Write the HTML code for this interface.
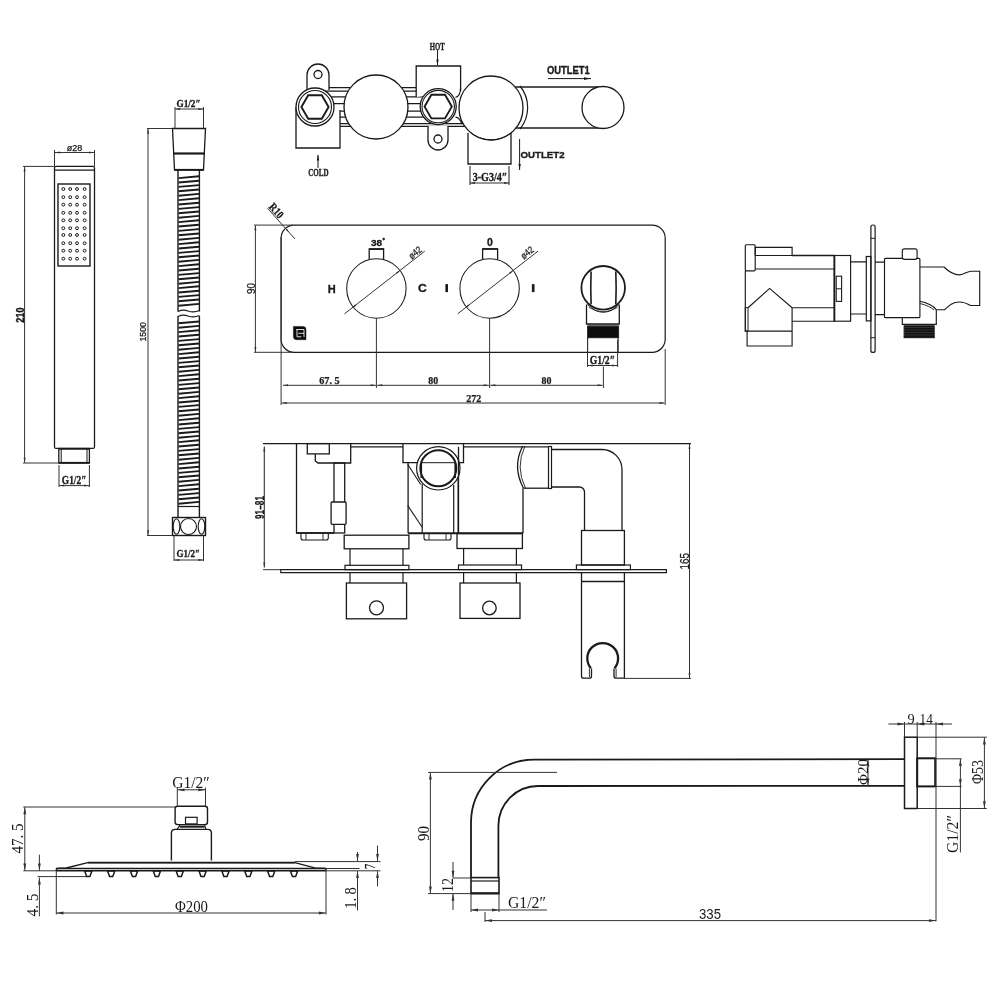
<!DOCTYPE html>
<html><head><meta charset="utf-8"><style>
html,body{margin:0;padding:0;background:#fff;}
svg{display:block;will-change:transform;}
</style></head><body>
<svg width="1000" height="1000" viewBox="0 0 1000 1000" stroke-linecap="butt">
<rect width="1000" height="1000" fill="#fff"/>
<line x1="322" y1="87.6" x2="417" y2="87.6" stroke="#1a1a1a" stroke-width="1.2" />
<line x1="322" y1="91.2" x2="417" y2="91.2" stroke="#1a1a1a" stroke-width="1.2" />
<line x1="322" y1="96.8" x2="438" y2="96.8" stroke="#1a1a1a" stroke-width="1.2" />
<line x1="322" y1="103.6" x2="438" y2="103.6" stroke="#1a1a1a" stroke-width="1.2" />
<line x1="322" y1="111.2" x2="438" y2="111.2" stroke="#1a1a1a" stroke-width="1.2" />
<line x1="322" y1="117.2" x2="438" y2="117.2" stroke="#1a1a1a" stroke-width="1.2" />
<line x1="322" y1="123.6" x2="470" y2="123.6" stroke="#1a1a1a" stroke-width="1.2" />
<line x1="322" y1="126.4" x2="470" y2="126.4" stroke="#1a1a1a" stroke-width="1.2" />
<path d="M307,90 L307,75 A11,11 0 0 1 329,75 L329,90" fill="#fff" stroke="#1a1a1a" stroke-width="1.3" />
<circle cx="318" cy="74.5" r="4" fill="none" stroke="#1a1a1a" stroke-width="1.3"/>
<path d="M296,107 L296,148 L340,148 L340,110" fill="#fff" stroke="#1a1a1a" stroke-width="1.3" />
<circle cx="315" cy="107" r="19" fill="#fff" stroke="#1a1a1a" stroke-width="1.3"/>
<circle cx="315" cy="107" r="16.5" fill="none" stroke="#1a1a1a" stroke-width="1.1"/>
<path d="M328.6,107.0 L321.8,118.8 L308.2,118.8 L301.4,107.0 L308.2,95.2 L321.8,95.2 Z" fill="#fff" stroke="#1a1a1a" stroke-width="1.9" />
<circle cx="376" cy="107" r="32" fill="#fff" stroke="#1a1a1a" stroke-width="1.3"/>
<path d="M416.2,97 L416.2,66 L460.6,66 L460.6,91" fill="#fff" stroke="#1a1a1a" stroke-width="1.3" />
<line x1="437.5" y1="50" x2="437.5" y2="65" stroke="#1a1a1a" stroke-width="1" />
<polygon points="437.5,65.5 436.30,59.50 438.70,59.50" fill="#1a1a1a"/>
<text x="437.3" y="45.9" font-family="Liberation Serif" font-size="11.18" font-weight="bold" text-anchor="middle" dominant-baseline="central" textLength="15" lengthAdjust="spacingAndGlyphs" fill="#1a1a1a" stroke="#1a1a1a" stroke-width="0.35">HOT</text>
<path d="M428,126 L428,140 A10,10 0 0 0 448,140 L448,126" fill="#fff" stroke="#1a1a1a" stroke-width="1.3" />
<circle cx="438" cy="139" r="4" fill="none" stroke="#1a1a1a" stroke-width="1.3"/>
<circle cx="438.2" cy="106.6" r="18" fill="#fff" stroke="#1a1a1a" stroke-width="1.3"/>
<circle cx="438.2" cy="106.6" r="16.2" fill="none" stroke="#1a1a1a" stroke-width="1.1"/>
<path d="M451.8,106.6 L445.0,118.4 L431.4,118.4 L424.6,106.6 L431.4,94.8 L445.0,94.8 Z" fill="#fff" stroke="#1a1a1a" stroke-width="1.9" />
<path d="M460.6,88 Q460.2,96.5 455.5,97.3" fill="none" stroke="#1a1a1a" stroke-width="1.2" />
<path d="M455.5,117.2 Q459.5,117.4 462,124" fill="none" stroke="#1a1a1a" stroke-width="1.2" />
<path d="M468,133 L468,164 L511,164 L511,133" fill="#fff" stroke="#1a1a1a" stroke-width="1.3" />
<line x1="505" y1="87" x2="603" y2="87" stroke="#1a1a1a" stroke-width="1.3" />
<line x1="505" y1="128" x2="603" y2="128" stroke="#1a1a1a" stroke-width="1.3" />
<path d="M520,86 A34,34 0 0 1 520,129" fill="none" stroke="#1a1a1a" stroke-width="1.2" />
<circle cx="603" cy="107.5" r="21" fill="#fff" stroke="#1a1a1a" stroke-width="1.3"/>
<circle cx="491" cy="108" r="32" fill="#fff" stroke="#1a1a1a" stroke-width="1.3"/>
<path d="M470,132 A32,32 0 0 0 512,132" fill="none" stroke="#1a1a1a" stroke-width="1.0" />
<text x="318.4" y="172.1" font-family="Liberation Serif" font-size="11.18" font-weight="bold" text-anchor="middle" dominant-baseline="central" textLength="20.4" lengthAdjust="spacingAndGlyphs" fill="#1a1a1a" stroke="#1a1a1a" stroke-width="0.35">COLD</text>
<line x1="318" y1="155" x2="318" y2="168" stroke="#1a1a1a" stroke-width="1" />
<polygon points="318,154.5 319.20,160.50 316.80,160.50" fill="#1a1a1a"/>
<text x="568.4" y="70.05" font-family="Liberation Sans" font-size="10.47" font-weight="bold" text-anchor="middle" dominant-baseline="central" textLength="42.9" lengthAdjust="spacingAndGlyphs" fill="#1a1a1a" stroke="#1a1a1a" stroke-width="0.35">OUTLET1</text>
<line x1="548" y1="78.6" x2="591" y2="78.6" stroke="#1a1a1a" stroke-width="1" />
<polygon points="591,78.6 584.00,80.00 584.00,77.20" fill="#1a1a1a"/>
<text x="542.6" y="154" font-family="Liberation Sans" font-size="9.92" font-weight="bold" text-anchor="middle" dominant-baseline="central" textLength="44" lengthAdjust="spacingAndGlyphs" fill="#1a1a1a" stroke="#1a1a1a" stroke-width="0.35">OUTLET2</text>
<line x1="519.6" y1="139" x2="519.6" y2="170" stroke="#1a1a1a" stroke-width="1" />
<polygon points="519.6,170 518.40,164.00 520.80,164.00" fill="#1a1a1a"/>
<text x="490" y="177.4" font-family="Liberation Serif" font-size="11.78" font-weight="bold" text-anchor="middle" dominant-baseline="central" textLength="34.7" lengthAdjust="spacingAndGlyphs" fill="#1a1a1a" stroke="#1a1a1a" stroke-width="0.35">3-G3/4″</text>
<line x1="470" y1="166" x2="470" y2="185" stroke="#1a1a1a" stroke-width="1" />
<line x1="509" y1="166" x2="509" y2="185" stroke="#1a1a1a" stroke-width="1" />
<line x1="470" y1="183" x2="509" y2="183" stroke="#333" stroke-width="1" />
<polygon points="470,183 475.00,182.00 475.00,184.00" fill="#333"/>
<polygon points="509,183 504.00,184.00 504.00,182.00" fill="#333"/>
<rect x="54.5" y="166.4" width="40.0" height="282.0" rx="1.5" fill="none" stroke="#1a1a1a" stroke-width="1.3"/>
<line x1="54.5" y1="170.2" x2="94.5" y2="170.2" stroke="#1a1a1a" stroke-width="1.3" />
<rect x="58" y="184" width="32" height="82" rx="0" fill="none" stroke="#1a1a1a" stroke-width="1.4"/>
<circle cx="63.3" cy="189" r="1.45" fill="none" stroke="#1a1a1a" stroke-width="1.0"/>
<circle cx="70.2" cy="189" r="1.45" fill="none" stroke="#1a1a1a" stroke-width="1.0"/>
<circle cx="77" cy="189" r="1.45" fill="none" stroke="#1a1a1a" stroke-width="1.0"/>
<circle cx="84.6" cy="189" r="1.45" fill="none" stroke="#1a1a1a" stroke-width="1.0"/>
<circle cx="63.3" cy="197.2" r="1.45" fill="none" stroke="#1a1a1a" stroke-width="1.0"/>
<circle cx="70.2" cy="197.2" r="1.45" fill="none" stroke="#1a1a1a" stroke-width="1.0"/>
<circle cx="77" cy="197.2" r="1.45" fill="none" stroke="#1a1a1a" stroke-width="1.0"/>
<circle cx="84.6" cy="197.2" r="1.45" fill="none" stroke="#1a1a1a" stroke-width="1.0"/>
<circle cx="63.3" cy="204.7" r="1.45" fill="none" stroke="#1a1a1a" stroke-width="1.0"/>
<circle cx="70.2" cy="204.7" r="1.45" fill="none" stroke="#1a1a1a" stroke-width="1.0"/>
<circle cx="77" cy="204.7" r="1.45" fill="none" stroke="#1a1a1a" stroke-width="1.0"/>
<circle cx="84.6" cy="204.7" r="1.45" fill="none" stroke="#1a1a1a" stroke-width="1.0"/>
<circle cx="63.3" cy="212.8" r="1.45" fill="none" stroke="#1a1a1a" stroke-width="1.0"/>
<circle cx="70.2" cy="212.8" r="1.45" fill="none" stroke="#1a1a1a" stroke-width="1.0"/>
<circle cx="77" cy="212.8" r="1.45" fill="none" stroke="#1a1a1a" stroke-width="1.0"/>
<circle cx="84.6" cy="212.8" r="1.45" fill="none" stroke="#1a1a1a" stroke-width="1.0"/>
<circle cx="63.3" cy="220.3" r="1.45" fill="none" stroke="#1a1a1a" stroke-width="1.0"/>
<circle cx="70.2" cy="220.3" r="1.45" fill="none" stroke="#1a1a1a" stroke-width="1.0"/>
<circle cx="77" cy="220.3" r="1.45" fill="none" stroke="#1a1a1a" stroke-width="1.0"/>
<circle cx="84.6" cy="220.3" r="1.45" fill="none" stroke="#1a1a1a" stroke-width="1.0"/>
<circle cx="63.3" cy="228.2" r="1.45" fill="none" stroke="#1a1a1a" stroke-width="1.0"/>
<circle cx="70.2" cy="228.2" r="1.45" fill="none" stroke="#1a1a1a" stroke-width="1.0"/>
<circle cx="77" cy="228.2" r="1.45" fill="none" stroke="#1a1a1a" stroke-width="1.0"/>
<circle cx="84.6" cy="228.2" r="1.45" fill="none" stroke="#1a1a1a" stroke-width="1.0"/>
<circle cx="63.3" cy="235" r="1.45" fill="none" stroke="#1a1a1a" stroke-width="1.0"/>
<circle cx="70.2" cy="235" r="1.45" fill="none" stroke="#1a1a1a" stroke-width="1.0"/>
<circle cx="77" cy="235" r="1.45" fill="none" stroke="#1a1a1a" stroke-width="1.0"/>
<circle cx="84.6" cy="235" r="1.45" fill="none" stroke="#1a1a1a" stroke-width="1.0"/>
<circle cx="63.3" cy="243.2" r="1.45" fill="none" stroke="#1a1a1a" stroke-width="1.0"/>
<circle cx="70.2" cy="243.2" r="1.45" fill="none" stroke="#1a1a1a" stroke-width="1.0"/>
<circle cx="77" cy="243.2" r="1.45" fill="none" stroke="#1a1a1a" stroke-width="1.0"/>
<circle cx="84.6" cy="243.2" r="1.45" fill="none" stroke="#1a1a1a" stroke-width="1.0"/>
<circle cx="63.3" cy="250.7" r="1.45" fill="none" stroke="#1a1a1a" stroke-width="1.0"/>
<circle cx="70.2" cy="250.7" r="1.45" fill="none" stroke="#1a1a1a" stroke-width="1.0"/>
<circle cx="77" cy="250.7" r="1.45" fill="none" stroke="#1a1a1a" stroke-width="1.0"/>
<circle cx="84.6" cy="250.7" r="1.45" fill="none" stroke="#1a1a1a" stroke-width="1.0"/>
<circle cx="63.3" cy="258.7" r="1.45" fill="none" stroke="#1a1a1a" stroke-width="1.0"/>
<circle cx="70.2" cy="258.7" r="1.45" fill="none" stroke="#1a1a1a" stroke-width="1.0"/>
<circle cx="77" cy="258.7" r="1.45" fill="none" stroke="#1a1a1a" stroke-width="1.0"/>
<circle cx="84.6" cy="258.7" r="1.45" fill="none" stroke="#1a1a1a" stroke-width="1.0"/>
<rect x="58.8" y="448.6" width="30.6" height="14.4" rx="0" fill="none" stroke="#1a1a1a" stroke-width="1.3"/>
<line x1="58.8" y1="448.8" x2="89.4" y2="448.8" stroke="#1a1a1a" stroke-width="1.8" />
<line x1="58.8" y1="462.8" x2="89.4" y2="462.8" stroke="#1a1a1a" stroke-width="1.8" />
<line x1="61.2" y1="449" x2="61.2" y2="462.5" stroke="#1a1a1a" stroke-width="1.0" />
<line x1="87" y1="449" x2="87" y2="462.5" stroke="#1a1a1a" stroke-width="1.0" />
<line x1="23" y1="166.4" x2="54.5" y2="166.4" stroke="#333" stroke-width="1.0" />
<line x1="23" y1="463" x2="58.8" y2="463" stroke="#333" stroke-width="1.0" />
<line x1="24.6" y1="166.6" x2="24.6" y2="462.8" stroke="#333" stroke-width="1.0" />
<polygon points="24.6,166.6 25.60,171.60 23.60,171.60" fill="#333"/>
<polygon points="24.6,462.8 23.60,457.80 25.60,457.80" fill="#333"/>
<text x="20.1" y="315.1" font-family="Liberation Sans" font-size="10.82" font-weight="bold" text-anchor="middle" dominant-baseline="central" textLength="15.3" lengthAdjust="spacingAndGlyphs" fill="#1a1a1a" stroke="#1a1a1a" stroke-width="0.35" transform="rotate(-90 20.1 315.1)">210</text>
<line x1="54.5" y1="150" x2="54.5" y2="166" stroke="#333" stroke-width="1.0" />
<line x1="94.5" y1="150" x2="94.5" y2="166" stroke="#333" stroke-width="1.0" />
<line x1="54.8" y1="152.5" x2="94.2" y2="152.5" stroke="#333" stroke-width="1.0" />
<polygon points="54.8,152.5 59.80,151.50 59.80,153.50" fill="#333"/>
<polygon points="94.2,152.5 89.20,153.50 89.20,151.50" fill="#333"/>
<text x="74.5" y="147.9" font-family="Liberation Sans" font-size="8.80" font-weight="normal" text-anchor="middle" dominant-baseline="central" textLength="15.5" lengthAdjust="spacingAndGlyphs" fill="#1a1a1a" stroke="#1a1a1a" stroke-width="0.25">ø28</text>
<line x1="59" y1="465" x2="59" y2="487" stroke="#333" stroke-width="1.0" />
<line x1="89.4" y1="465" x2="89.4" y2="487" stroke="#333" stroke-width="1.0" />
<line x1="59.2" y1="485.6" x2="89.2" y2="485.6" stroke="#333" stroke-width="1.0" />
<polygon points="59.2,485.6 64.20,484.60 64.20,486.60" fill="#333"/>
<polygon points="89.2,485.6 84.20,486.60 84.20,484.60" fill="#333"/>
<text x="74.1" y="479.6" font-family="Liberation Serif" font-size="12.69" font-weight="bold" text-anchor="middle" dominant-baseline="central" textLength="24.6" lengthAdjust="spacingAndGlyphs" fill="#1a1a1a" stroke="#1a1a1a" stroke-width="0.35">G1/2″</text>
<path d="M172.5,128.5 L205.5,128.5 L203.5,170 L174.5,170 Z" fill="#fff" stroke="#1a1a1a" stroke-width="1.3" />
<line x1="173.2" y1="153.5" x2="204.8" y2="153.5" stroke="#1a1a1a" stroke-width="2.2" />
<line x1="174.5" y1="169.8" x2="203.5" y2="169.8" stroke="#1a1a1a" stroke-width="1.8" />
<line x1="178" y1="170" x2="178" y2="311.5" stroke="#1a1a1a" stroke-width="1.4" />
<line x1="199.4" y1="170" x2="199.4" y2="311.5" stroke="#1a1a1a" stroke-width="1.4" />
<line x1="178" y1="316" x2="178" y2="517.5" stroke="#1a1a1a" stroke-width="1.4" />
<line x1="199.4" y1="316" x2="199.4" y2="517.5" stroke="#1a1a1a" stroke-width="1.4" />
<line x1="178.5" y1="178.1" x2="199" y2="176.29999999999998" stroke="#1a1a1a" stroke-width="1.9" />
<line x1="178.5" y1="182.5" x2="199" y2="180.7" stroke="#1a1a1a" stroke-width="1.9" />
<line x1="178.5" y1="186.9" x2="199" y2="185.1" stroke="#1a1a1a" stroke-width="1.9" />
<line x1="178.5" y1="191.3" x2="199" y2="189.5" stroke="#1a1a1a" stroke-width="1.9" />
<line x1="178.5" y1="195.70000000000002" x2="199" y2="193.9" stroke="#1a1a1a" stroke-width="1.9" />
<line x1="178.5" y1="200.10000000000002" x2="199" y2="198.3" stroke="#1a1a1a" stroke-width="1.9" />
<line x1="178.5" y1="204.50000000000003" x2="199" y2="202.70000000000002" stroke="#1a1a1a" stroke-width="1.9" />
<line x1="178.5" y1="208.90000000000003" x2="199" y2="207.10000000000002" stroke="#1a1a1a" stroke-width="1.9" />
<line x1="178.5" y1="213.30000000000004" x2="199" y2="211.50000000000003" stroke="#1a1a1a" stroke-width="1.9" />
<line x1="178.5" y1="217.70000000000005" x2="199" y2="215.90000000000003" stroke="#1a1a1a" stroke-width="1.9" />
<line x1="178.5" y1="222.10000000000005" x2="199" y2="220.30000000000004" stroke="#1a1a1a" stroke-width="1.9" />
<line x1="178.5" y1="226.50000000000006" x2="199" y2="224.70000000000005" stroke="#1a1a1a" stroke-width="1.9" />
<line x1="178.5" y1="230.90000000000006" x2="199" y2="229.10000000000005" stroke="#1a1a1a" stroke-width="1.9" />
<line x1="178.5" y1="235.30000000000007" x2="199" y2="233.50000000000006" stroke="#1a1a1a" stroke-width="1.9" />
<line x1="178.5" y1="239.70000000000007" x2="199" y2="237.90000000000006" stroke="#1a1a1a" stroke-width="1.9" />
<line x1="178.5" y1="244.10000000000008" x2="199" y2="242.30000000000007" stroke="#1a1a1a" stroke-width="1.9" />
<line x1="178.5" y1="248.50000000000009" x2="199" y2="246.70000000000007" stroke="#1a1a1a" stroke-width="1.9" />
<line x1="178.5" y1="252.9000000000001" x2="199" y2="251.10000000000008" stroke="#1a1a1a" stroke-width="1.9" />
<line x1="178.5" y1="257.30000000000007" x2="199" y2="255.50000000000009" stroke="#1a1a1a" stroke-width="1.9" />
<line x1="178.5" y1="261.70000000000005" x2="199" y2="259.9000000000001" stroke="#1a1a1a" stroke-width="1.9" />
<line x1="178.5" y1="266.1" x2="199" y2="264.30000000000007" stroke="#1a1a1a" stroke-width="1.9" />
<line x1="178.5" y1="270.5" x2="199" y2="268.70000000000005" stroke="#1a1a1a" stroke-width="1.9" />
<line x1="178.5" y1="274.9" x2="199" y2="273.1" stroke="#1a1a1a" stroke-width="1.9" />
<line x1="178.5" y1="279.29999999999995" x2="199" y2="277.5" stroke="#1a1a1a" stroke-width="1.9" />
<line x1="178.5" y1="283.69999999999993" x2="199" y2="281.9" stroke="#1a1a1a" stroke-width="1.9" />
<line x1="178.5" y1="288.0999999999999" x2="199" y2="286.29999999999995" stroke="#1a1a1a" stroke-width="1.9" />
<line x1="178.5" y1="292.4999999999999" x2="199" y2="290.69999999999993" stroke="#1a1a1a" stroke-width="1.9" />
<line x1="178.5" y1="296.89999999999986" x2="199" y2="295.0999999999999" stroke="#1a1a1a" stroke-width="1.9" />
<line x1="178.5" y1="301.29999999999984" x2="199" y2="299.4999999999999" stroke="#1a1a1a" stroke-width="1.9" />
<line x1="178.5" y1="305.6999999999998" x2="199" y2="303.89999999999986" stroke="#1a1a1a" stroke-width="1.9" />
<line x1="178.5" y1="323.2999999999997" x2="199" y2="321.4999999999998" stroke="#1a1a1a" stroke-width="1.9" />
<line x1="178.5" y1="327.6999999999997" x2="199" y2="325.89999999999975" stroke="#1a1a1a" stroke-width="1.9" />
<line x1="178.5" y1="332.0999999999997" x2="199" y2="330.2999999999997" stroke="#1a1a1a" stroke-width="1.9" />
<line x1="178.5" y1="336.49999999999966" x2="199" y2="334.6999999999997" stroke="#1a1a1a" stroke-width="1.9" />
<line x1="178.5" y1="340.89999999999964" x2="199" y2="339.0999999999997" stroke="#1a1a1a" stroke-width="1.9" />
<line x1="178.5" y1="345.2999999999996" x2="199" y2="343.49999999999966" stroke="#1a1a1a" stroke-width="1.9" />
<line x1="178.5" y1="349.6999999999996" x2="199" y2="347.89999999999964" stroke="#1a1a1a" stroke-width="1.9" />
<line x1="178.5" y1="354.09999999999957" x2="199" y2="352.2999999999996" stroke="#1a1a1a" stroke-width="1.9" />
<line x1="178.5" y1="358.49999999999955" x2="199" y2="356.6999999999996" stroke="#1a1a1a" stroke-width="1.9" />
<line x1="178.5" y1="362.8999999999995" x2="199" y2="361.09999999999957" stroke="#1a1a1a" stroke-width="1.9" />
<line x1="178.5" y1="367.2999999999995" x2="199" y2="365.49999999999955" stroke="#1a1a1a" stroke-width="1.9" />
<line x1="178.5" y1="371.6999999999995" x2="199" y2="369.8999999999995" stroke="#1a1a1a" stroke-width="1.9" />
<line x1="178.5" y1="376.09999999999945" x2="199" y2="374.2999999999995" stroke="#1a1a1a" stroke-width="1.9" />
<line x1="178.5" y1="380.49999999999943" x2="199" y2="378.6999999999995" stroke="#1a1a1a" stroke-width="1.9" />
<line x1="178.5" y1="384.8999999999994" x2="199" y2="383.09999999999945" stroke="#1a1a1a" stroke-width="1.9" />
<line x1="178.5" y1="389.2999999999994" x2="199" y2="387.49999999999943" stroke="#1a1a1a" stroke-width="1.9" />
<line x1="178.5" y1="393.69999999999936" x2="199" y2="391.8999999999994" stroke="#1a1a1a" stroke-width="1.9" />
<line x1="178.5" y1="398.09999999999934" x2="199" y2="396.2999999999994" stroke="#1a1a1a" stroke-width="1.9" />
<line x1="178.5" y1="402.4999999999993" x2="199" y2="400.69999999999936" stroke="#1a1a1a" stroke-width="1.9" />
<line x1="178.5" y1="406.8999999999993" x2="199" y2="405.09999999999934" stroke="#1a1a1a" stroke-width="1.9" />
<line x1="178.5" y1="411.2999999999993" x2="199" y2="409.4999999999993" stroke="#1a1a1a" stroke-width="1.9" />
<line x1="178.5" y1="415.69999999999925" x2="199" y2="413.8999999999993" stroke="#1a1a1a" stroke-width="1.9" />
<line x1="178.5" y1="420.0999999999992" x2="199" y2="418.2999999999993" stroke="#1a1a1a" stroke-width="1.9" />
<line x1="178.5" y1="424.4999999999992" x2="199" y2="422.69999999999925" stroke="#1a1a1a" stroke-width="1.9" />
<line x1="178.5" y1="428.8999999999992" x2="199" y2="427.0999999999992" stroke="#1a1a1a" stroke-width="1.9" />
<line x1="178.5" y1="433.29999999999916" x2="199" y2="431.4999999999992" stroke="#1a1a1a" stroke-width="1.9" />
<line x1="178.5" y1="437.69999999999914" x2="199" y2="435.8999999999992" stroke="#1a1a1a" stroke-width="1.9" />
<line x1="178.5" y1="442.0999999999991" x2="199" y2="440.29999999999916" stroke="#1a1a1a" stroke-width="1.9" />
<line x1="178.5" y1="446.4999999999991" x2="199" y2="444.69999999999914" stroke="#1a1a1a" stroke-width="1.9" />
<line x1="178.5" y1="450.89999999999907" x2="199" y2="449.0999999999991" stroke="#1a1a1a" stroke-width="1.9" />
<line x1="178.5" y1="455.29999999999905" x2="199" y2="453.4999999999991" stroke="#1a1a1a" stroke-width="1.9" />
<line x1="178.5" y1="459.699999999999" x2="199" y2="457.89999999999907" stroke="#1a1a1a" stroke-width="1.9" />
<line x1="178.5" y1="464.099999999999" x2="199" y2="462.29999999999905" stroke="#1a1a1a" stroke-width="1.9" />
<line x1="178.5" y1="468.499999999999" x2="199" y2="466.699999999999" stroke="#1a1a1a" stroke-width="1.9" />
<line x1="178.5" y1="472.89999999999895" x2="199" y2="471.099999999999" stroke="#1a1a1a" stroke-width="1.9" />
<line x1="178.5" y1="477.29999999999893" x2="199" y2="475.499999999999" stroke="#1a1a1a" stroke-width="1.9" />
<line x1="178.5" y1="481.6999999999989" x2="199" y2="479.89999999999895" stroke="#1a1a1a" stroke-width="1.9" />
<line x1="178.5" y1="486.0999999999989" x2="199" y2="484.29999999999893" stroke="#1a1a1a" stroke-width="1.9" />
<line x1="178.5" y1="490.49999999999886" x2="199" y2="488.6999999999989" stroke="#1a1a1a" stroke-width="1.9" />
<line x1="178.5" y1="494.89999999999884" x2="199" y2="493.0999999999989" stroke="#1a1a1a" stroke-width="1.9" />
<line x1="178.5" y1="499.2999999999988" x2="199" y2="497.49999999999886" stroke="#1a1a1a" stroke-width="1.9" />
<line x1="178.5" y1="503.6999999999988" x2="199" y2="501.89999999999884" stroke="#1a1a1a" stroke-width="1.9" />
<path d="M178,311.5 Q183,309 188,311 Q194,313 199.4,310.5" fill="none" stroke="#1a1a1a" stroke-width="1.2" />
<path d="M178,316.5 Q183,314 188,316 Q194,318 199.4,315.5" fill="none" stroke="#1a1a1a" stroke-width="1.2" />
<line x1="178" y1="506.5" x2="199.4" y2="506.5" stroke="#1a1a1a" stroke-width="1.2" />
<rect x="172.5" y="517.5" width="33.0" height="18.0" rx="0" fill="none" stroke="#1a1a1a" stroke-width="1.4"/>
<circle cx="188.5" cy="526.5" r="8" fill="none" stroke="#1a1a1a" stroke-width="1.1"/>
<ellipse cx="176.5" cy="526.5" rx="3.3" ry="7.8" fill="none" stroke="#1a1a1a" stroke-width="1.1"/>
<ellipse cx="201.5" cy="526.5" rx="3.3" ry="7.8" fill="none" stroke="#1a1a1a" stroke-width="1.1"/>
<line x1="147" y1="128.5" x2="172.5" y2="128.5" stroke="#333" stroke-width="1.0" />
<line x1="147" y1="535.5" x2="172.5" y2="535.5" stroke="#333" stroke-width="1.0" />
<line x1="148" y1="128.7" x2="148" y2="535.3" stroke="#333" stroke-width="1.0" />
<polygon points="148,128.7 149.00,133.70 147.00,133.70" fill="#333"/>
<polygon points="148,535.3 147.00,530.30 149.00,530.30" fill="#333"/>
<text x="143" y="331.8" font-family="Liberation Sans" font-size="8.38" font-weight="normal" text-anchor="middle" dominant-baseline="central" textLength="19.5" lengthAdjust="spacingAndGlyphs" fill="#1a1a1a" stroke="#1a1a1a" stroke-width="0.25" transform="rotate(-90 143 331.8)">1500</text>
<line x1="175" y1="107" x2="175" y2="128.5" stroke="#333" stroke-width="1.0" />
<line x1="203.5" y1="107" x2="203.5" y2="128.5" stroke="#333" stroke-width="1.0" />
<line x1="175.2" y1="109" x2="203.3" y2="109" stroke="#333" stroke-width="1.0" />
<polygon points="175.2,109 180.20,108.00 180.20,110.00" fill="#333"/>
<polygon points="203.3,109 198.30,110.00 198.30,108.00" fill="#333"/>
<text x="188.5" y="103.3" font-family="Liberation Serif" font-size="11.33" font-weight="bold" text-anchor="middle" dominant-baseline="central" textLength="24" lengthAdjust="spacingAndGlyphs" fill="#1a1a1a" stroke="#1a1a1a" stroke-width="0.35">G1/2″</text>
<line x1="174" y1="536" x2="174" y2="561" stroke="#333" stroke-width="1.0" />
<line x1="203.5" y1="536" x2="203.5" y2="561" stroke="#333" stroke-width="1.0" />
<line x1="174.2" y1="560" x2="203.3" y2="560" stroke="#333" stroke-width="1.0" />
<polygon points="174.2,560 179.20,559.00 179.20,561.00" fill="#333"/>
<polygon points="203.3,560 198.30,561.00 198.30,559.00" fill="#333"/>
<text x="188.3" y="553.3" font-family="Liberation Serif" font-size="11.33" font-weight="bold" text-anchor="middle" dominant-baseline="central" textLength="23.5" lengthAdjust="spacingAndGlyphs" fill="#1a1a1a" stroke="#1a1a1a" stroke-width="0.35">G1/2″</text>
<rect x="281.1" y="225.1" width="384.1" height="127.2" rx="13" fill="none" stroke="#1a1a1a" stroke-width="1.2"/>
<line x1="254" y1="225.1" x2="293" y2="225.1" stroke="#333" stroke-width="1.0" />
<line x1="254" y1="352.3" x2="293" y2="352.3" stroke="#333" stroke-width="1.0" />
<line x1="255.4" y1="225.3" x2="255.4" y2="352.1" stroke="#333" stroke-width="1.0" />
<polygon points="255.4,225.3 256.40,230.30 254.40,230.30" fill="#333"/>
<polygon points="255.4,352.1 254.40,347.10 256.40,347.10" fill="#333"/>
<text x="250.5" y="288.5" font-family="Liberation Sans" font-size="10.75" font-weight="normal" text-anchor="middle" dominant-baseline="central" textLength="11" lengthAdjust="spacingAndGlyphs" fill="#1a1a1a" stroke="#1a1a1a" stroke-width="0.25" transform="rotate(-90 250.5 288.5)">90</text>
<line x1="267.5" y1="208.2" x2="295" y2="239" stroke="#333" stroke-width="1.0" />
<polygon points="289.2,232.5 285.94,230.05 287.13,228.98" fill="#1a1a1a"/>
<text x="276.5" y="210.5" font-family="Liberation Serif" font-size="11.33" font-weight="bold" text-anchor="middle" dominant-baseline="central" textLength="16" lengthAdjust="spacingAndGlyphs" fill="#1a1a1a" stroke="#1a1a1a" stroke-width="0.35" transform="rotate(47.5 276.5 210.5)">R10</text>
<circle cx="376.4" cy="288.5" r="29.7" fill="none" stroke="#1a1a1a" stroke-width="1.05"/>
<path d="M369.2,259.5 L369.2,248.9 L383.6,248.9 L383.6,259.5" fill="none" stroke="#1a1a1a" stroke-width="1.3" />
<line x1="369.2" y1="249.1" x2="383.6" y2="249.1" stroke="#1a1a1a" stroke-width="1.6" />
<text x="376.5" y="242.85" font-family="Liberation Sans" font-size="9.36" font-weight="bold" text-anchor="middle" dominant-baseline="central" textLength="11.2" lengthAdjust="spacingAndGlyphs" fill="#1a1a1a" stroke="#1a1a1a" stroke-width="0.3">38</text>
<circle cx="383.7" cy="239.1" r="1.0" fill="#1a1a1a" stroke="#1a1a1a" stroke-width="0.6"/>
<line x1="344.5" y1="313.8" x2="424.8" y2="251.1" stroke="#333" stroke-width="1.0" />
<polygon points="352.5,307.5 355.15,304.40 356.14,305.66" fill="#1a1a1a"/>
<polygon points="399.8,270.6 397.15,273.70 396.16,272.44" fill="#1a1a1a"/>
<text x="415" y="252.6" font-family="Liberation Sans" font-size="9.78" font-weight="normal" text-anchor="middle" dominant-baseline="central" textLength="14" lengthAdjust="spacingAndGlyphs" fill="#1a1a1a" stroke="#1a1a1a" stroke-width="0.25" transform="rotate(-38 415 252.6)">ø42</text>
<text x="331.7" y="289.05" font-family="Liberation Sans" font-size="11.31" font-weight="bold" text-anchor="middle" dominant-baseline="central" textLength="8.0" lengthAdjust="spacingAndGlyphs" fill="#1a1a1a" stroke="#1a1a1a" stroke-width="0.3">H</text>
<text x="422.4" y="288.3" font-family="Liberation Sans" font-size="10.68" font-weight="bold" text-anchor="middle" dominant-baseline="central" textLength="8.8" lengthAdjust="spacingAndGlyphs" fill="#1a1a1a" stroke="#1a1a1a" stroke-width="0.3">C</text>
<rect x="445.4" y="284.1" width="2.6" height="8.0" rx="0" fill="#1a1a1a" stroke="#1a1a1a" stroke-width="0"/>
<circle cx="489.6" cy="288.5" r="29.7" fill="none" stroke="#1a1a1a" stroke-width="1.05"/>
<path d="M482.6,259.7 L482.6,248.8 L497.6,248.8 L497.6,259.7" fill="none" stroke="#1a1a1a" stroke-width="1.3" />
<line x1="482.6" y1="249.0" x2="497.6" y2="249.0" stroke="#1a1a1a" stroke-width="1.6" />
<text x="489.9" y="242.6" font-family="Liberation Sans" font-size="10.06" font-weight="bold" text-anchor="middle" dominant-baseline="central" textLength="5.85" lengthAdjust="spacingAndGlyphs" fill="#1a1a1a" stroke="#1a1a1a" stroke-width="0.3">0</text>
<line x1="457.7" y1="313.8" x2="538" y2="251.1" stroke="#333" stroke-width="1.0" />
<polygon points="465.7,307.5 468.35,304.40 469.34,305.66" fill="#1a1a1a"/>
<polygon points="513,270.6 510.35,273.70 509.36,272.44" fill="#1a1a1a"/>
<text x="527" y="252.6" font-family="Liberation Sans" font-size="9.78" font-weight="normal" text-anchor="middle" dominant-baseline="central" textLength="14" lengthAdjust="spacingAndGlyphs" fill="#1a1a1a" stroke="#1a1a1a" stroke-width="0.25" transform="rotate(-38 527 252.6)">ø42</text>
<rect x="531.9" y="284.1" width="2.6" height="8.0" rx="0" fill="#1a1a1a" stroke="#1a1a1a" stroke-width="0"/>
<circle cx="603.2" cy="287.8" r="21.8" fill="none" stroke="#1a1a1a" stroke-width="1.8"/>
<path d="M591.1,271.5 Q590.4,288 591.1,304.4" fill="none" stroke="#1a1a1a" stroke-width="1.6" />
<path d="M615.8,271.5 Q616.5,288 615.8,304.4" fill="none" stroke="#1a1a1a" stroke-width="1.6" />
<path d="M586.5,304.4 L586.5,324 L619.3,324 L619.3,304.4" fill="none" stroke="#1a1a1a" stroke-width="1.3" />
<path d="M587.5,304.5 Q603.2,320 619,304.5" fill="none" stroke="#1a1a1a" stroke-width="1.0" />
<path d="M589,307.5 Q603.2,316 617.5,307.5" fill="none" stroke="#1a1a1a" stroke-width="0.8" />
<line x1="587.6" y1="325.2" x2="618.7" y2="325.2" stroke="#1a1a1a" stroke-width="0.9" />
<rect x="587.6" y="326.3" width="31.1" height="11.5" rx="0" fill="#0d0d0d" stroke="#1a1a1a" stroke-width="0.8"/>
<line x1="587.6" y1="337.8" x2="587.6" y2="352.5" stroke="#1a1a1a" stroke-width="1.1" />
<line x1="618.1" y1="337.8" x2="618.1" y2="352.5" stroke="#1a1a1a" stroke-width="1.1" />
<path d="M293.4,326.4 L302.8,326.4 Q306,326.4 306,329.6 L306,339.7 L296.6,339.7 Q293.4,339.7 293.4,336.5 Z" fill="#0a0a0a" stroke="#1a1a1a" stroke-width="0.5" />
<path d="M296.3,329.5 L304,329.5 L304,337 M297,329.5 L297,336.8 L301.3,336.8 M298.3,333.3 L304,333.3" fill="none" stroke="#f4f4f4" stroke-width="0.9" />
<line x1="376.4" y1="318.2" x2="376.4" y2="388" stroke="#333" stroke-width="1.0" />
<line x1="489.6" y1="318.2" x2="489.6" y2="388" stroke="#333" stroke-width="1.0" />
<line x1="603.4" y1="366.6" x2="603.4" y2="388" stroke="#333" stroke-width="1.0" />
<line x1="281.1" y1="237" x2="281.1" y2="405" stroke="#333" stroke-width="1.0" />
<line x1="665.2" y1="349" x2="665.2" y2="405" stroke="#333" stroke-width="1.0" />
<line x1="283" y1="385.3" x2="375.8" y2="385.3" stroke="#333" stroke-width="1.0" />
<polygon points="283,385.3 288.00,384.30 288.00,386.30" fill="#333"/>
<polygon points="375.8,385.3 370.80,386.30 370.80,384.30" fill="#333"/>
<text x="329.4" y="380.2" font-family="Liberation Serif" font-size="10.57" font-weight="bold" text-anchor="middle" dominant-baseline="central" textLength="20.4" lengthAdjust="spacingAndGlyphs" fill="#1a1a1a" stroke="#1a1a1a" stroke-width="0.25">67. 5</text>
<line x1="377.2" y1="385.3" x2="488.8" y2="385.3" stroke="#333" stroke-width="1.0" />
<polygon points="377.2,385.3 382.20,384.30 382.20,386.30" fill="#333"/>
<polygon points="488.8,385.3 483.80,386.30 483.80,384.30" fill="#333"/>
<text x="433.3" y="380.1" font-family="Liberation Serif" font-size="10.57" font-weight="bold" text-anchor="middle" dominant-baseline="central" textLength="9.9" lengthAdjust="spacingAndGlyphs" fill="#1a1a1a" stroke="#1a1a1a" stroke-width="0.25">80</text>
<line x1="490.4" y1="385.3" x2="602.6" y2="385.3" stroke="#333" stroke-width="1.0" />
<polygon points="490.4,385.3 495.40,384.30 495.40,386.30" fill="#333"/>
<polygon points="602.6,385.3 597.60,386.30 597.60,384.30" fill="#333"/>
<text x="546.5" y="380.1" font-family="Liberation Serif" font-size="10.57" font-weight="bold" text-anchor="middle" dominant-baseline="central" textLength="9.9" lengthAdjust="spacingAndGlyphs" fill="#1a1a1a" stroke="#1a1a1a" stroke-width="0.25">80</text>
<line x1="281.8" y1="403" x2="664.5" y2="403" stroke="#333" stroke-width="1.0" />
<polygon points="281.8,403 286.80,402.00 286.80,404.00" fill="#333"/>
<polygon points="664.5,403 659.50,404.00 659.50,402.00" fill="#333"/>
<text x="473.7" y="398.15" font-family="Liberation Serif" font-size="11.03" font-weight="bold" text-anchor="middle" dominant-baseline="central" textLength="15" lengthAdjust="spacingAndGlyphs" fill="#1a1a1a" stroke="#1a1a1a" stroke-width="0.25">272</text>
<line x1="587.5" y1="340" x2="587.5" y2="367" stroke="#333" stroke-width="1.0" />
<line x1="617.6" y1="340" x2="617.6" y2="367" stroke="#333" stroke-width="1.0" />
<line x1="587.7" y1="365.5" x2="617.4" y2="365.5" stroke="#333" stroke-width="1.0" />
<polygon points="587.7,365.5 592.70,364.50 592.70,366.50" fill="#333"/>
<polygon points="617.4,365.5 612.40,366.50 612.40,364.50" fill="#333"/>
<text x="602.4" y="360" font-family="Liberation Serif" font-size="12.69" font-weight="bold" text-anchor="middle" dominant-baseline="central" textLength="25.3" lengthAdjust="spacingAndGlyphs" fill="#1a1a1a" stroke="#1a1a1a" stroke-width="0.35">G1/2″</text>
<line x1="263" y1="443.6" x2="691" y2="443.6" stroke="#1a1a1a" stroke-width="1.2" />
<line x1="350.7" y1="446.9" x2="403" y2="446.9" stroke="#1a1a1a" stroke-width="1.2" />
<line x1="463.5" y1="446.9" x2="523" y2="446.9" stroke="#1a1a1a" stroke-width="1.2" />
<line x1="264.3" y1="446.6" x2="264.3" y2="567.5" stroke="#333" stroke-width="1.1" />
<polygon points="264.3,446.6 265.30,451.60 263.30,451.60" fill="#333"/>
<polygon points="264.3,567.5 263.30,562.50 265.30,562.50" fill="#333"/>
<text x="260.2" y="507.5" font-family="Liberation Sans" font-size="11.87" font-weight="bold" text-anchor="middle" dominant-baseline="central" textLength="23" lengthAdjust="spacingAndGlyphs" fill="#1a1a1a" stroke="#1a1a1a" stroke-width="0.2" transform="rotate(-90 260.2 507.5)">91–81</text>
<line x1="263" y1="569.7" x2="281" y2="569.7" stroke="#333" stroke-width="1.0" />
<path d="M280.8,569.7 L666.4,569.7 L666.4,572.6 L280.8,572.6 Z" fill="none" stroke="#1a1a1a" stroke-width="1.2" />
<path d="M296.5,443.6 L296.5,533 L334,533" fill="none" stroke="#1a1a1a" stroke-width="1.3" />
<rect x="307.3" y="443.6" width="22.0" height="10.3" rx="0" fill="none" stroke="#1a1a1a" stroke-width="1.3"/>
<path d="M315.3,453.9 L315.3,461 L318,463 L350.7,463 L350.7,443.6" fill="none" stroke="#1a1a1a" stroke-width="1.3" />
<rect x="334" y="463" width="10.7" height="70" rx="0" fill="none" stroke="#1a1a1a" stroke-width="1.3"/>
<rect x="331.1" y="502" width="15.0" height="22.3" rx="1" fill="#fff" stroke="#1a1a1a" stroke-width="1.3"/>
<path d="M301,533.7 L301,538 Q301,540 303,540 L326,540 Q328.3,540 328.3,538 L328.3,533.7" fill="none" stroke="#1a1a1a" stroke-width="1.1" />
<line x1="306" y1="533.7" x2="306" y2="540" stroke="#1a1a1a" stroke-width="0.9" />
<line x1="323" y1="533.7" x2="323" y2="540" stroke="#1a1a1a" stroke-width="0.9" />
<path d="M403,443.6 L403,462.7 L463.5,462.7 L463.5,443.6" fill="none" stroke="#1a1a1a" stroke-width="1.3" />
<line x1="408.1" y1="462.7" x2="408.1" y2="533.3" stroke="#1a1a1a" stroke-width="1.3" />
<line x1="422.2" y1="484" x2="422.2" y2="533.3" stroke="#1a1a1a" stroke-width="1.2" />
<line x1="453.7" y1="485" x2="453.7" y2="533.3" stroke="#1a1a1a" stroke-width="1.2" />
<line x1="458.2" y1="462.7" x2="458.2" y2="533.3" stroke="#1a1a1a" stroke-width="1.3" />
<line x1="407.7" y1="464.2" x2="420.7" y2="484.5" stroke="#1a1a1a" stroke-width="1.1" />
<line x1="407.7" y1="505.5" x2="422.2" y2="527.2" stroke="#1a1a1a" stroke-width="1.1" />
<circle cx="438.3" cy="468.3" r="21.7" fill="#fff" stroke="#1a1a1a" stroke-width="1.2"/>
<circle cx="438.3" cy="468.3" r="18" fill="none" stroke="#1a1a1a" stroke-width="2.0"/>
<line x1="421" y1="462.7" x2="455.5" y2="462.7" stroke="#1a1a1a" stroke-width="1.0" />
<line x1="421.3" y1="463" x2="421.3" y2="478" stroke="#1a1a1a" stroke-width="1.6" />
<line x1="455.2" y1="463" x2="455.2" y2="478" stroke="#1a1a1a" stroke-width="1.6" />
<path d="M424,533.7 L424,538 Q424,540 426,540 L449,540 Q451,540 451,538 L451,533.7" fill="none" stroke="#1a1a1a" stroke-width="1.1" />
<line x1="429" y1="533.7" x2="429" y2="540" stroke="#1a1a1a" stroke-width="0.9" />
<line x1="446" y1="533.7" x2="446" y2="540" stroke="#1a1a1a" stroke-width="0.9" />
<line x1="458.5" y1="446.9" x2="458.5" y2="533.3" stroke="#1a1a1a" stroke-width="1.3" />
<path d="M522.7,446 Q512,467 523.5,488.2" fill="none" stroke="#1a1a1a" stroke-width="1.3" />
<path d="M525,446 Q515,467 525.5,488.2" fill="none" stroke="#1a1a1a" stroke-width="0.9" />
<line x1="523.5" y1="488.2" x2="548.5" y2="488.2" stroke="#1a1a1a" stroke-width="1.3" />
<line x1="522.7" y1="446.9" x2="548.5" y2="446.9" stroke="#1a1a1a" stroke-width="1.2" />
<line x1="523" y1="488.2" x2="523" y2="533.3" stroke="#1a1a1a" stroke-width="1.3" />
<line x1="408.1" y1="533.3" x2="523" y2="533.3" stroke="#1a1a1a" stroke-width="2.0" />
<line x1="296.5" y1="533.0" x2="334" y2="533.0" stroke="#1a1a1a" stroke-width="1.3" />
<rect x="548.5" y="446.5" width="3.0" height="42.0" rx="0" fill="none" stroke="#1a1a1a" stroke-width="1.2"/>
<path d="M551.5,449.5 L602,449.5 A20,20 0 0 1 622,469.5 L622,530.5" fill="none" stroke="#1a1a1a" stroke-width="1.3" />
<path d="M551.5,487 L579.5,487 A5,5 0 0 1 584.5,492 L584.5,530.5" fill="none" stroke="#1a1a1a" stroke-width="1.3" />
<rect x="581.5" y="530.5" width="42.9" height="34.5" rx="0" fill="none" stroke="#1a1a1a" stroke-width="1.3"/>
<rect x="576.4" y="565" width="54.0" height="4.6" rx="0" fill="none" stroke="#1a1a1a" stroke-width="1.2"/>
<path d="M581.5,572.6 L581.5,676 Q581.5,678.2 583.7,678.2 L589.5,678.2 Q591.5,678.2 591.5,676 L591.5,668.5" fill="none" stroke="#1a1a1a" stroke-width="1.3" />
<path d="M614,668.5 L614,676 Q614,678.2 616.2,678.2 L624.4,678.2 L624.4,572.6" fill="none" stroke="#1a1a1a" stroke-width="1.3" />
<path d="M590.8,668.2 A15.4,15.4 0 1 1 614.6,668.2" fill="none" stroke="#1a1a1a" stroke-width="2.3" />
<line x1="589.4" y1="668.5" x2="589.4" y2="677" stroke="#1a1a1a" stroke-width="0.9" />
<line x1="616.1" y1="668.5" x2="616.1" y2="677" stroke="#1a1a1a" stroke-width="0.9" />
<line x1="581.5" y1="581.5" x2="624.4" y2="581.5" stroke="#1a1a1a" stroke-width="1.5" />
<rect x="344.2" y="535.2" width="64.7" height="13.6" rx="0" fill="none" stroke="#1a1a1a" stroke-width="1.3"/>
<line x1="350" y1="548.8" x2="350" y2="565.3" stroke="#1a1a1a" stroke-width="1.2" />
<line x1="403" y1="548.8" x2="403" y2="565.3" stroke="#1a1a1a" stroke-width="1.2" />
<rect x="345" y="565.3" width="63.9" height="4.4" rx="0" fill="none" stroke="#1a1a1a" stroke-width="1.2"/>
<line x1="350" y1="572.6" x2="350" y2="583" stroke="#1a1a1a" stroke-width="1.2" />
<line x1="403" y1="572.6" x2="403" y2="583" stroke="#1a1a1a" stroke-width="1.2" />
<rect x="346.4" y="583" width="60.2" height="35.8" rx="0" fill="none" stroke="#1a1a1a" stroke-width="1.3"/>
<circle cx="376.5" cy="607.8" r="7" fill="none" stroke="#1a1a1a" stroke-width="1.3"/>
<rect x="457" y="533.5" width="65.4" height="15.0" rx="0" fill="none" stroke="#1a1a1a" stroke-width="1.3"/>
<line x1="463.6" y1="548.5" x2="463.6" y2="565" stroke="#1a1a1a" stroke-width="1.2" />
<line x1="516.4" y1="548.5" x2="516.4" y2="565" stroke="#1a1a1a" stroke-width="1.2" />
<rect x="458.5" y="565" width="63.0" height="4.6" rx="0" fill="none" stroke="#1a1a1a" stroke-width="1.2"/>
<line x1="463.6" y1="572.6" x2="463.6" y2="583" stroke="#1a1a1a" stroke-width="1.2" />
<line x1="516.4" y1="572.6" x2="516.4" y2="583" stroke="#1a1a1a" stroke-width="1.2" />
<rect x="460" y="583" width="60" height="35.4" rx="0" fill="none" stroke="#1a1a1a" stroke-width="1.3"/>
<circle cx="489.4" cy="608" r="6.8" fill="none" stroke="#1a1a1a" stroke-width="1.3"/>
<line x1="624.4" y1="678.4" x2="691" y2="678.4" stroke="#333" stroke-width="1.0" />
<line x1="689.5" y1="443.8" x2="689.5" y2="678.2" stroke="#333" stroke-width="1.0" />
<polygon points="689.5,443.8 690.50,448.80 688.50,448.80" fill="#333"/>
<polygon points="689.5,678.2 688.50,673.20 690.50,673.20" fill="#333"/>
<text x="685" y="561.3" font-family="Liberation Sans" font-size="12.57" font-weight="normal" text-anchor="middle" dominant-baseline="central" textLength="16.5" lengthAdjust="spacingAndGlyphs" fill="#1a1a1a" stroke="#1a1a1a" stroke-width="0.25" transform="rotate(-90 685 561.3)">165</text>
<rect x="745.3" y="244.7" width="9.9" height="26.1" rx="1" fill="#fff" stroke="#1a1a1a" stroke-width="1.15"/>
<path d="M755.2,255.5 L755.2,247.4 L792.1,247.4 L792.1,255.5" fill="none" stroke="#1a1a1a" stroke-width="1.15" />
<line x1="792.1" y1="255.5" x2="834.4" y2="255.5" stroke="#1a1a1a" stroke-width="1.6" />
<line x1="755.2" y1="255.5" x2="792.1" y2="255.5" stroke="#1a1a1a" stroke-width="1.2" />
<line x1="755.2" y1="269" x2="834.4" y2="269" stroke="#1a1a1a" stroke-width="1.15" />
<path d="M745.3,270.8 L745.3,331.1 L792.1,331.1" fill="none" stroke="#1a1a1a" stroke-width="1.15" />
<path d="M748,307.7 L769.6,288.4 L792.1,307.7" fill="none" stroke="#1a1a1a" stroke-width="1.15" />
<path d="M792.1,307.7 L834.4,307.7 M792.1,321.2 L834.4,321.2 M792.1,307.7 L792.1,346 L747.1,346 L747.1,331.1" fill="none" stroke="#1a1a1a" stroke-width="1.15" />
<line x1="834.4" y1="255.5" x2="834.4" y2="321.2" stroke="#1a1a1a" stroke-width="1.8" />
<rect x="745.3" y="307.7" width="2.7" height="23.4" rx="0" fill="none" stroke="#1a1a1a" stroke-width="1.0"/>
<rect x="834.4" y="255.5" width="16.2" height="65.7" rx="0" fill="none" stroke="#1a1a1a" stroke-width="1.15"/>
<rect x="836.2" y="276.2" width="5.4" height="25.2" rx="0" fill="none" stroke="#1a1a1a" stroke-width="1.1"/>
<line x1="836.2" y1="288.8" x2="841.6" y2="288.8" stroke="#1a1a1a" stroke-width="1.0" />
<path d="M850.6,261.8 L866.3,261.8 M850.6,314 L866.3,314" fill="none" stroke="#1a1a1a" stroke-width="1.15" />
<rect x="866.3" y="256.5" width="4.6" height="64.4" rx="0" fill="none" stroke="#1a1a1a" stroke-width="1.2"/>
<rect x="870.9" y="225" width="4.2" height="127.4" rx="2" fill="none" stroke="#1a1a1a" stroke-width="1.2"/>
<line x1="870.9" y1="238.3" x2="875.1" y2="238.3" stroke="#1a1a1a" stroke-width="1.0" />
<line x1="870.9" y1="337.7" x2="875.1" y2="337.7" stroke="#1a1a1a" stroke-width="1.0" />
<path d="M875.1,262.1 L884.5,262.1 M875.1,314.6 L884.5,314.6" fill="none" stroke="#1a1a1a" stroke-width="1.15" />
<rect x="884.5" y="258.3" width="35.4" height="59.4" rx="1" fill="none" stroke="#1a1a1a" stroke-width="1.15"/>
<rect x="902.3" y="248.8" width="14.8" height="10.5" rx="2" fill="#fff" stroke="#1a1a1a" stroke-width="1.15"/>
<path d="M919.9,267 L944,267 C948,271 952.5,274.8 959.5,274.8 C964.5,274.8 967,271.2 971,271.2 L979.7,271.2 L979.7,305.5 L970.5,305.5 C967,303.5 964,302 959.5,302 C952,302 948.5,306 944.7,309.7 L936.3,309.7" fill="none" stroke="#1a1a1a" stroke-width="1.15" />
<path d="M919.9,301.3 Q932,304 936.3,309.7" fill="none" stroke="#1a1a1a" stroke-width="1.1" />
<path d="M919.9,303.5 Q930,306 934,310" fill="none" stroke="#1a1a1a" stroke-width="0.9" />
<path d="M902.3,317.7 L902.3,324.4 L936.3,324.4 L936.3,309.7" fill="none" stroke="#1a1a1a" stroke-width="1.15" />
<rect x="904.1" y="325.8" width="30.1" height="11.9" rx="0" fill="#111" stroke="#1a1a1a" stroke-width="1.0"/>
<line x1="904.1" y1="327.5" x2="934.2" y2="327.5" stroke="#555" stroke-width="0.5" />
<line x1="904.1" y1="330" x2="934.2" y2="330" stroke="#555" stroke-width="0.5" />
<line x1="904.1" y1="332.5" x2="934.2" y2="332.5" stroke="#555" stroke-width="0.5" />
<line x1="904.1" y1="335" x2="934.2" y2="335" stroke="#555" stroke-width="0.5" />
<rect x="175.1" y="806.3" width="32.4" height="18.3" rx="2.5" fill="none" stroke="#1a1a1a" stroke-width="1.4"/>
<rect x="185.5" y="817.3" width="11.6" height="6.6" rx="0" fill="none" stroke="#1a1a1a" stroke-width="1.2"/>
<path d="M179.5,824.6 L204.8,824.6 L204.8,826 L206,829.4 M179.5,824.6 L179.5,826 L177,829.4" fill="none" stroke="#1a1a1a" stroke-width="1.2" />
<line x1="180" y1="826.8" x2="204.5" y2="826.8" stroke="#1a1a1a" stroke-width="1.8" />
<path d="M171.4,860.6 L171.4,833 Q171.4,829.4 175,829.4 L207.8,829.4 Q211.4,829.4 211.4,833 L211.4,860.6" fill="none" stroke="#1a1a1a" stroke-width="1.4" />
<path d="M56.3,868.5 L66.2,868 L87.8,862.6 L294.8,862.6 L314.8,867.9 L326,868.5" fill="none" stroke="#1a1a1a" stroke-width="1.3" />
<line x1="87.8" y1="862.6" x2="294.8" y2="862.6" stroke="#1a1a1a" stroke-width="1.7" />
<rect x="56.3" y="868.5" width="269.7" height="2.3" rx="0.8" fill="none" stroke="#1a1a1a" stroke-width="1.4"/>
<path d="M84.70,871 L86.70,876.4 L89.90,876.4 L91.90,871 Z" fill="none" stroke="#1a1a1a" stroke-width="1.5" />
<path d="M107.56,871 L109.56,876.4 L112.76,876.4 L114.76,871 Z" fill="none" stroke="#1a1a1a" stroke-width="1.5" />
<path d="M130.42,871 L132.42,876.4 L135.62,876.4 L137.62,871 Z" fill="none" stroke="#1a1a1a" stroke-width="1.5" />
<path d="M153.28,871 L155.28,876.4 L158.48,876.4 L160.48,871 Z" fill="none" stroke="#1a1a1a" stroke-width="1.5" />
<path d="M176.14,871 L178.14,876.4 L181.34,876.4 L183.34,871 Z" fill="none" stroke="#1a1a1a" stroke-width="1.5" />
<path d="M199.00,871 L201.00,876.4 L204.20,876.4 L206.20,871 Z" fill="none" stroke="#1a1a1a" stroke-width="1.5" />
<path d="M221.86,871 L223.86,876.4 L227.06,876.4 L229.06,871 Z" fill="none" stroke="#1a1a1a" stroke-width="1.5" />
<path d="M244.72,871 L246.72,876.4 L249.92,876.4 L251.92,871 Z" fill="none" stroke="#1a1a1a" stroke-width="1.5" />
<path d="M267.58,871 L269.58,876.4 L272.78,876.4 L274.78,871 Z" fill="none" stroke="#1a1a1a" stroke-width="1.5" />
<path d="M290.44,871 L292.44,876.4 L295.64,876.4 L297.64,871 Z" fill="none" stroke="#1a1a1a" stroke-width="1.5" />
<line x1="23.3" y1="807" x2="175" y2="807" stroke="#333" stroke-width="1.0" />
<line x1="23.3" y1="870.8" x2="56" y2="870.8" stroke="#333" stroke-width="1.0" />
<line x1="24.8" y1="807.2" x2="24.8" y2="870.6" stroke="#333" stroke-width="1.0" />
<polygon points="24.8,807.2 26.20,814.20 23.40,814.20" fill="#333"/>
<polygon points="24.8,870.6 23.40,863.60 26.20,863.60" fill="#333"/>
<text x="17.9" y="838.6" font-family="Liberation Serif" font-size="15.86" font-weight="normal" text-anchor="middle" dominant-baseline="central" textLength="30" lengthAdjust="spacingAndGlyphs" fill="#1a1a1a" transform="rotate(-90 17.9 838.6)">47. 5</text>
<line x1="37.6" y1="876.6" x2="86" y2="876.6" stroke="#333" stroke-width="1.0" />
<line x1="39.4" y1="854.7" x2="39.4" y2="870.6" stroke="#333" stroke-width="1.0" />
<polygon points="39.4,870.6 38.00,863.60 40.80,863.60" fill="#333"/>
<line x1="39.4" y1="877.6" x2="39.4" y2="916.3" stroke="#333" stroke-width="1.0" />
<polygon points="39.4,877.6 40.80,884.60 38.00,884.60" fill="#333"/>
<text x="32.5" y="905" font-family="Liberation Serif" font-size="15.86" font-weight="normal" text-anchor="middle" dominant-baseline="central" textLength="23" lengthAdjust="spacingAndGlyphs" fill="#1a1a1a" transform="rotate(-90 32.5 905)">4. 5</text>
<line x1="56.3" y1="871" x2="56.3" y2="914.5" stroke="#333" stroke-width="1.0" />
<line x1="326" y1="871" x2="326" y2="914.5" stroke="#333" stroke-width="1.0" />
<line x1="56.5" y1="913" x2="325.8" y2="913" stroke="#333" stroke-width="1.0" />
<polygon points="56.5,913 63.50,911.60 63.50,914.40" fill="#333"/>
<polygon points="325.8,913 318.80,914.40 318.80,911.60" fill="#333"/>
<text x="191.5" y="906.5" font-family="Liberation Serif" font-size="16.62" font-weight="normal" text-anchor="middle" dominant-baseline="central" textLength="33" lengthAdjust="spacingAndGlyphs" fill="#1a1a1a">Φ200</text>
<line x1="177.3" y1="787.6" x2="177.3" y2="806.3" stroke="#333" stroke-width="1.0" />
<line x1="205.5" y1="787.6" x2="205.5" y2="806.3" stroke="#333" stroke-width="1.0" />
<line x1="177.5" y1="789.8" x2="205.3" y2="789.8" stroke="#333" stroke-width="1.0" />
<polygon points="177.5,789.8 184.50,788.40 184.50,791.20" fill="#333"/>
<polygon points="205.3,789.8 198.30,791.20 198.30,788.40" fill="#333"/>
<text x="191" y="782" font-family="Liberation Serif" font-size="16.62" font-weight="normal" text-anchor="middle" dominant-baseline="central" textLength="37.5" lengthAdjust="spacingAndGlyphs" fill="#1a1a1a">G1/2″</text>
<line x1="294.8" y1="861.6" x2="380.4" y2="861.6" stroke="#333" stroke-width="1.0" />
<line x1="326" y1="868.5" x2="359.5" y2="868.5" stroke="#333" stroke-width="1.0" />
<line x1="326" y1="870.8" x2="380.4" y2="870.8" stroke="#333" stroke-width="1.0" />
<line x1="357.5" y1="852" x2="357.5" y2="861.1" stroke="#333" stroke-width="1.0" />
<polygon points="357.5,861.1 356.10,854.10 358.90,854.10" fill="#333"/>
<line x1="357.5" y1="871.1" x2="357.5" y2="910.4" stroke="#333" stroke-width="1.0" />
<polygon points="357.5,871.1 358.90,878.10 356.10,878.10" fill="#333"/>
<text x="350.4" y="898" font-family="Liberation Serif" font-size="15.71" font-weight="normal" text-anchor="middle" dominant-baseline="central" textLength="21.6" lengthAdjust="spacingAndGlyphs" fill="#1a1a1a" transform="rotate(-90 350.4 898)">1. 8</text>
<line x1="377.5" y1="845.6" x2="377.5" y2="861.1" stroke="#333" stroke-width="1.0" />
<polygon points="377.5,861.1 376.10,854.10 378.90,854.10" fill="#333"/>
<line x1="377.5" y1="871.1" x2="377.5" y2="886.4" stroke="#333" stroke-width="1.0" />
<polygon points="377.5,871.1 378.90,878.10 376.10,878.10" fill="#333"/>
<text x="370.4" y="866.5" font-family="Liberation Serif" font-size="15.11" font-weight="normal" text-anchor="middle" dominant-baseline="central" textLength="5.5" lengthAdjust="spacingAndGlyphs" fill="#1a1a1a" stroke="#1a1a1a" stroke-width="0.2" transform="rotate(-90 370.4 866.5)">7</text>
<path d="M904.5,759.2 L534,759.6 A63,63 0 0 0 471,822.6 L471,878" fill="none" stroke="#1a1a1a" stroke-width="1.8" />
<path d="M904.5,785.8 L538,786 A39.6,39.6 0 0 0 498.4,825.6 L498.4,878" fill="none" stroke="#1a1a1a" stroke-width="1.8" />
<rect x="471" y="877.6" width="28" height="16.0" rx="0" fill="none" stroke="#1a1a1a" stroke-width="1.6"/>
<line x1="471" y1="881" x2="499" y2="881" stroke="#1a1a1a" stroke-width="1.2" />
<line x1="471" y1="893.2" x2="499" y2="893.2" stroke="#1a1a1a" stroke-width="2.0" />
<rect x="904.5" y="737.2" width="12.7" height="71.3" rx="0" fill="none" stroke="#1a1a1a" stroke-width="1.5"/>
<rect x="917.2" y="758.3" width="18.0" height="28.1" rx="0" fill="none" stroke="#1a1a1a" stroke-width="2.0"/>
<line x1="428" y1="772.4" x2="557" y2="772.4" stroke="#333" stroke-width="1.0" />
<line x1="428" y1="893.6" x2="471" y2="893.6" stroke="#333" stroke-width="1.0" />
<line x1="430.4" y1="772.6" x2="430.4" y2="893.4" stroke="#333" stroke-width="1.0" />
<polygon points="430.4,772.6 431.80,779.60 429.00,779.60" fill="#333"/>
<polygon points="430.4,893.4 429.00,886.40 431.80,886.40" fill="#333"/>
<text x="423.5" y="833.5" font-family="Liberation Serif" font-size="16.62" font-weight="normal" text-anchor="middle" dominant-baseline="central" textLength="15" lengthAdjust="spacingAndGlyphs" fill="#1a1a1a" transform="rotate(-90 423.5 833.5)">90</text>
<line x1="453" y1="878" x2="471" y2="878" stroke="#333" stroke-width="1.0" />
<line x1="453" y1="862" x2="453" y2="877.8" stroke="#333" stroke-width="1.0" />
<polygon points="453,877.8 451.60,870.80 454.40,870.80" fill="#333"/>
<line x1="453" y1="893.8" x2="453" y2="910" stroke="#333" stroke-width="1.0" />
<polygon points="453,893.8 454.40,900.80 451.60,900.80" fill="#333"/>
<text x="447.2" y="885" font-family="Liberation Serif" font-size="15.71" font-weight="normal" text-anchor="middle" dominant-baseline="central" textLength="14" lengthAdjust="spacingAndGlyphs" fill="#1a1a1a" transform="rotate(-90 447.2 885)">12</text>
<line x1="471" y1="894" x2="471" y2="912" stroke="#333" stroke-width="1.0" />
<line x1="499" y1="894" x2="499" y2="912" stroke="#333" stroke-width="1.0" />
<line x1="471" y1="910" x2="547" y2="910" stroke="#333" stroke-width="1.0" />
<polygon points="471,910 478.00,908.60 478.00,911.40" fill="#333"/>
<polygon points="499,910 492.00,911.40 492.00,908.60" fill="#333"/>
<text x="527" y="902" font-family="Liberation Serif" font-size="16.62" font-weight="normal" text-anchor="middle" dominant-baseline="central" textLength="38" lengthAdjust="spacingAndGlyphs" fill="#1a1a1a">G1/2″</text>
<line x1="485" y1="912" x2="485" y2="922" stroke="#333" stroke-width="1.0" />
<line x1="485" y1="920.6" x2="936" y2="920.6" stroke="#333" stroke-width="1.0" />
<polygon points="485,920.6 492.00,919.20 492.00,922.00" fill="#333"/>
<polygon points="936,920.6 929.00,922.00 929.00,919.20" fill="#333"/>
<text x="710" y="913.8" font-family="Liberation Sans" font-size="15.36" font-weight="normal" text-anchor="middle" dominant-baseline="central" textLength="22" lengthAdjust="spacingAndGlyphs" fill="#1a1a1a">335</text>
<line x1="868" y1="759.2" x2="868" y2="785.8" stroke="#333" stroke-width="1.0" />
<polygon points="868,759.4 869.40,766.40 866.60,766.40" fill="#333"/>
<polygon points="868,785.6 866.60,778.60 869.40,778.60" fill="#333"/>
<text x="863.2" y="772" font-family="Liberation Serif" font-size="14.50" font-weight="normal" text-anchor="middle" dominant-baseline="central" textLength="26" lengthAdjust="spacingAndGlyphs" fill="#1a1a1a" transform="rotate(-90 863.2 772)">Φ20</text>
<line x1="888.4" y1="724" x2="952" y2="724" stroke="#333" stroke-width="1.0" />
<polygon points="904.5,724 897.50,725.40 897.50,722.60" fill="#333"/>
<polygon points="917.2,724 924.20,722.60 924.20,725.40" fill="#333"/>
<polygon points="936,724 943.00,722.60 943.00,725.40" fill="#333"/>
<line x1="904.5" y1="722" x2="904.5" y2="737" stroke="#333" stroke-width="1.0" />
<line x1="917.2" y1="722" x2="917.2" y2="737" stroke="#333" stroke-width="1.0" />
<line x1="936" y1="722" x2="936" y2="921.3" stroke="#333" stroke-width="1.0" />
<text x="911.2" y="719.2" font-family="Liberation Serif" font-size="14.50" font-weight="normal" text-anchor="middle" dominant-baseline="central" textLength="7.2" lengthAdjust="spacingAndGlyphs" fill="#1a1a1a">9</text>
<text x="926.2" y="719.2" font-family="Liberation Serif" font-size="14.50" font-weight="normal" text-anchor="middle" dominant-baseline="central" textLength="13.2" lengthAdjust="spacingAndGlyphs" fill="#1a1a1a">14</text>
<line x1="917.2" y1="737.2" x2="986.8" y2="737.2" stroke="#333" stroke-width="1.0" />
<line x1="917.2" y1="808.5" x2="986.8" y2="808.5" stroke="#333" stroke-width="1.0" />
<line x1="984.4" y1="737.4" x2="984.4" y2="808.3" stroke="#333" stroke-width="1.0" />
<polygon points="984.4,737.4 985.80,744.40 983.00,744.40" fill="#333"/>
<polygon points="984.4,808.3 983.00,801.30 985.80,801.30" fill="#333"/>
<text x="977.7" y="772" font-family="Liberation Serif" font-size="15.86" font-weight="normal" text-anchor="middle" dominant-baseline="central" textLength="24" lengthAdjust="spacingAndGlyphs" fill="#1a1a1a" transform="rotate(-90 977.7 772)">Φ53</text>
<line x1="935.2" y1="758.8" x2="961.6" y2="758.8" stroke="#333" stroke-width="1.0" />
<line x1="935.2" y1="786.4" x2="961.6" y2="786.4" stroke="#333" stroke-width="1.0" />
<line x1="960.4" y1="758.8" x2="960.4" y2="852.4" stroke="#333" stroke-width="1.0" />
<polygon points="960.4,759 961.80,766.00 959.00,766.00" fill="#333"/>
<polygon points="960.4,786.2 959.00,779.20 961.80,779.20" fill="#333"/>
<text x="952.5" y="834" font-family="Liberation Serif" font-size="16.62" font-weight="normal" text-anchor="middle" dominant-baseline="central" textLength="38" lengthAdjust="spacingAndGlyphs" fill="#1a1a1a" transform="rotate(-90 952.5 834)">G1/2″</text>
</svg></body></html>
